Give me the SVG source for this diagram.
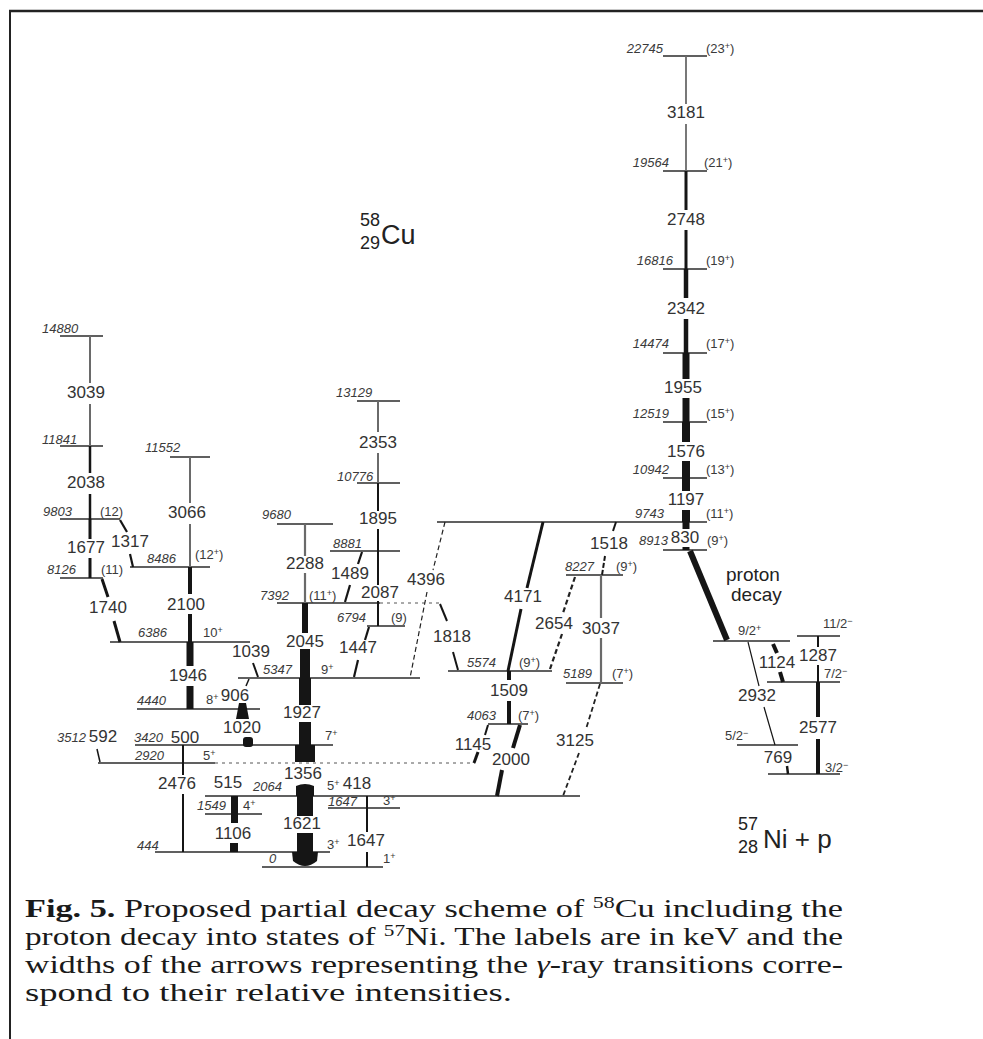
<svg xmlns="http://www.w3.org/2000/svg" width="983" height="1039" viewBox="0 0 983 1039">
<defs>
<style>
.lv{stroke:#2b2b2b;stroke-width:1.3;fill:none}
.lt{font-family:"Liberation Sans",Arial,sans-serif;font-style:italic;font-size:13px;fill:#3a3a3a}
.sl{font-family:"Liberation Sans",Arial,sans-serif;font-size:13px;fill:#3a3a3a}
.tl{font-family:"Liberation Sans",Arial,sans-serif;font-size:17px;fill:#333;text-anchor:middle}
.bk{stroke:#151515;fill:none;stroke-linecap:butt}
.gr{stroke:#6a6a6a;fill:none}
.ds{stroke:#222;fill:none;stroke-dasharray:5 3}
.dl{stroke:#555;fill:none;stroke-width:1;stroke-dasharray:3 4}
.fl{fill:#151515;stroke:none}
.cap{font-family:"Liberation Serif","Times New Roman",serif;font-size:25px;fill:#1a1a1a}
.big{font-family:"Liberation Sans",Arial,sans-serif;fill:#222}
</style>
</defs>
<rect width="983" height="1039" fill="#fff"/>
<g id="frame">
<line x1="9" y1="11" x2="983" y2="11" stroke="#222" stroke-width="2.5"/>
<line x1="10" y1="10" x2="10" y2="1039" stroke="#222" stroke-width="2"/>
</g>

<g id="titles">
<text class="big" x="360" y="226" font-size="18">58</text>
<text class="big" x="360" y="249" font-size="18">29</text>
<text class="big" x="381" y="244" font-size="27">Cu</text>
<text class="big" x="738" y="830" font-size="18">57</text>
<text class="big" x="738" y="853" font-size="18">28</text>
<text class="big" x="763" y="848" font-size="26">Ni + p</text>
<text class="big" x="726" y="581" font-size="19">proton</text>
<text class="big" x="731" y="601" font-size="19">decay</text>
</g>

<!-- levels -->
<g id="L22745"><line class="lv" x1="663" y1="56" x2="707" y2="56"/><text class="lt" x="663" y="53" text-anchor="end">22745</text><text class="sl" x="706" y="53">(23<tspan font-size="9" dy="-4">+</tspan><tspan dy="4">)</tspan></text></g>
<g id="L19564"><line class="lv" x1="663" y1="171" x2="707" y2="171"/><text class="lt" x="669" y="167" text-anchor="end">19564</text><text class="sl" x="704" y="167">(21<tspan font-size="9" dy="-4">+</tspan><tspan dy="4">)</tspan></text></g>
<g id="L16816"><line class="lv" x1="663" y1="269" x2="707" y2="269"/><text class="lt" x="673" y="265" text-anchor="end">16816</text><text class="sl" x="706" y="265">(19<tspan font-size="9" dy="-4">+</tspan><tspan dy="4">)</tspan></text></g>
<g id="L14474"><line class="lv" x1="663" y1="353" x2="707" y2="353"/><text class="lt" x="669" y="348" text-anchor="end">14474</text><text class="sl" x="706" y="348">(17<tspan font-size="9" dy="-4">+</tspan><tspan dy="4">)</tspan></text></g>
<g id="L12519"><line class="lv" x1="663" y1="422" x2="707" y2="422"/><text class="lt" x="669" y="418" text-anchor="end">12519</text><text class="sl" x="706" y="418">(15<tspan font-size="9" dy="-4">+</tspan><tspan dy="4">)</tspan></text></g>
<g id="L10942"><line class="lv" x1="663" y1="478" x2="707" y2="478"/><text class="lt" x="669" y="474" text-anchor="end">10942</text><text class="sl" x="706" y="474">(13<tspan font-size="9" dy="-4">+</tspan><tspan dy="4">)</tspan></text></g>
<g id="L9743"><line class="lv" x1="437" y1="522" x2="707" y2="522"/><text class="lt" x="664" y="518" text-anchor="end">9743</text><text class="sl" x="706" y="518">(11<tspan font-size="9" dy="-4">+</tspan><tspan dy="4">)</tspan></text></g>
<g id="L8913"><line class="lv" x1="663" y1="550" x2="707" y2="550"/><text class="lt" x="668" y="545" text-anchor="end">8913</text><text class="sl" x="707" y="545">(9<tspan font-size="9" dy="-4">+</tspan><tspan dy="4">)</tspan></text></g>

<g id="L14880"><line class="lv" x1="60" y1="336" x2="103" y2="336"/><text class="lt" x="42" y="333">14880</text></g>
<g id="L11841"><line class="lv" x1="60" y1="446" x2="103" y2="446"/><text class="lt" x="42" y="444">11841</text></g>
<g id="L9803"><line class="lv" x1="60" y1="519" x2="120" y2="519"/><text class="lt" x="43" y="516">9803</text><text class="sl" x="100" y="516">(12)</text></g>
<g id="L8126"><line class="lv" x1="60" y1="578" x2="103" y2="578"/><text class="lt" x="47" y="574">8126</text><text class="sl" x="101" y="574">(11)</text></g>
<g id="L11552"><line class="lv" x1="170" y1="457" x2="210" y2="457"/><text class="lt" x="145" y="452">11552</text></g>
<g id="L8486"><line class="lv" x1="130" y1="567" x2="210" y2="567"/><text class="lt" x="147" y="563">8486</text><text class="sl" x="195" y="559">(12<tspan font-size="9" dy="-4">+</tspan><tspan dy="4">)</tspan></text></g>
<g id="L6386"><line class="lv" x1="110" y1="642" x2="250" y2="642"/><text class="lt" x="138" y="637">6386</text><text class="sl" x="203" y="637">10<tspan font-size="9" dy="-4">+</tspan></text></g>
<g id="L4440"><line class="lv" x1="137" y1="709" x2="260" y2="709"/><text class="lt" x="137" y="705">4440</text><text class="sl" x="206" y="704">8<tspan font-size="9" dy="-4">+</tspan></text></g>
<g id="L3512"><text class="lt" x="57" y="742">3512</text></g>
<g id="L3420"><line class="lv" x1="135" y1="745" x2="333" y2="745"/><text class="lt" x="134" y="742">3420</text><text class="sl" x="325" y="740">7<tspan font-size="9" dy="-4">+</tspan></text></g>
<g id="L2920"><line class="lv" x1="98" y1="763" x2="215" y2="763"/><line class="dl" x1="215" y1="763" x2="475" y2="763"/><text class="lt" x="135" y="760">2920</text><text class="sl" x="203" y="760">5<tspan font-size="9" dy="-4">+</tspan></text></g>
<g id="L2064"><line class="lv" x1="205" y1="796" x2="580" y2="796"/><text class="lt" x="253" y="791">2064</text><text class="sl" x="327" y="790">5<tspan font-size="9" dy="-4">+</tspan></text></g>
<g id="L1647"><line class="lv" x1="328" y1="808" x2="400" y2="808"/><text class="lt" x="328" y="806">1647</text><text class="sl" x="383" y="805">3<tspan font-size="9" dy="-4">+</tspan></text></g>
<g id="L1549"><line class="lv" x1="205" y1="814" x2="262" y2="814"/><text class="lt" x="197" y="810">1549</text><text class="sl" x="243" y="810">4<tspan font-size="9" dy="-4">+</tspan></text></g>
<g id="L444"><line class="lv" x1="155" y1="852" x2="330" y2="852"/><text class="lt" x="137" y="850">444</text><text class="sl" x="327" y="849">3<tspan font-size="9" dy="-4">+</tspan></text></g>
<g id="L0"><line class="lv" x1="262" y1="867" x2="383" y2="867"/><text class="lt" x="269" y="863">0</text><text class="sl" x="383" y="863">1<tspan font-size="9" dy="-4">+</tspan></text></g>
<g id="L5347"><line class="lv" x1="238" y1="678" x2="420" y2="678"/><text class="lt" x="263" y="674">5347</text><text class="sl" x="321" y="674">9<tspan font-size="9" dy="-4">+</tspan></text></g>
<g id="L7392"><line class="lv" x1="277" y1="603" x2="380" y2="603"/><line class="dl" x1="380" y1="603" x2="442" y2="603"/><text class="lt" x="260" y="600">7392</text><text class="sl" x="309" y="600">(11<tspan font-size="9" dy="-4">+</tspan><tspan dy="4">)</tspan></text></g>
<g id="L9680"><line class="lv" x1="277" y1="524" x2="333" y2="524"/><text class="lt" x="262" y="519">9680</text></g>
<g id="L6794"><line class="lv" x1="367" y1="626" x2="405" y2="626"/><text class="lt" x="337" y="622">6794</text><text class="sl" x="391" y="622">(9)</text></g>
<g id="L8881"><line class="lv" x1="330" y1="551" x2="400" y2="551"/><text class="lt" x="333" y="548">8881</text></g>
<g id="L10776"><line class="lv" x1="357" y1="483" x2="400" y2="483"/><text class="lt" x="337" y="481">10776</text></g>
<g id="L13129"><line class="lv" x1="357" y1="401" x2="400" y2="401"/><text class="lt" x="336" y="397">13129</text></g>
<g id="L5574"><line class="lv" x1="448" y1="671" x2="552" y2="671"/><text class="lt" x="467" y="667">5574</text><text class="sl" x="519" y="667">(9<tspan font-size="9" dy="-4">+</tspan><tspan dy="4">)</tspan></text></g>
<g id="L4063"><line class="lv" x1="488" y1="724" x2="528" y2="724"/><text class="lt" x="467" y="720">4063</text><text class="sl" x="518" y="720">(7<tspan font-size="9" dy="-4">+</tspan><tspan dy="4">)</tspan></text></g>
<g id="L8227"><line class="lv" x1="566" y1="575" x2="623" y2="575"/><text class="lt" x="565" y="571">8227</text><text class="sl" x="616" y="571">(9<tspan font-size="9" dy="-4">+</tspan><tspan dy="4">)</tspan></text></g>
<g id="L5189"><line class="lv" x1="566" y1="683" x2="623" y2="683"/><text class="lt" x="563" y="678">5189</text><text class="sl" x="612" y="678">(7<tspan font-size="9" dy="-4">+</tspan><tspan dy="4">)</tspan></text></g>

<g id="Ni92"><line class="lv" x1="713" y1="641" x2="790" y2="641"/><text class="sl" x="738" y="635">9/2<tspan font-size="9" dy="-4">+</tspan></text></g>
<g id="Ni112"><line class="lv" x1="797" y1="636" x2="840" y2="636"/><text class="sl" x="823" y="628">11/2<tspan font-size="9" dy="-4">−</tspan></text></g>
<g id="Ni72"><line class="lv" x1="767" y1="682" x2="840" y2="682"/><text class="sl" x="824" y="678">7/2<tspan font-size="9" dy="-4">−</tspan></text></g>
<g id="Ni52"><line class="lv" x1="737" y1="745" x2="798" y2="745"/><text class="sl" x="725" y="740">5/2<tspan font-size="9" dy="-4">−</tspan></text></g>
<g id="Ni32"><line class="lv" x1="768" y1="774" x2="840" y2="774"/><text class="sl" x="825" y="772">3/2<tspan font-size="9" dy="-4">−</tspan></text></g>

<!-- transitions -->
<g id="connectors">
<line class="gr" x1="686" y1="56" x2="686" y2="104" stroke-width="1.8"/><line class="gr" x1="686" y1="124" x2="686" y2="171" stroke-width="1.8"/>
<line class="bk" x1="686" y1="171" x2="686" y2="210" stroke-width="3"/><line class="bk" x1="686" y1="230" x2="686" y2="269" stroke-width="3"/>
<line class="bk" x1="686" y1="269" x2="686" y2="298" stroke-width="4.5"/><line class="bk" x1="686" y1="319" x2="686" y2="353" stroke-width="4.5"/>
<line class="bk" x1="686" y1="353" x2="686" y2="379" stroke-width="7"/><line class="bk" x1="686" y1="398" x2="686" y2="422" stroke-width="7"/>
<line class="bk" x1="686" y1="422" x2="686" y2="442" stroke-width="8"/><line class="bk" x1="686" y1="461" x2="686" y2="478" stroke-width="8"/>
<line class="bk" x1="686" y1="478" x2="686" y2="491" stroke-width="8"/><line class="bk" x1="686" y1="510" x2="686" y2="522" stroke-width="8"/>
<line class="bk" x1="686" y1="522" x2="686" y2="529" stroke-width="7"/><line class="bk" x1="686" y1="547" x2="686" y2="550" stroke-width="7"/>
<line class="bk" x1="690" y1="551" x2="727" y2="640" stroke-width="6"/>
<line class="bk" x1="818" y1="636" x2="818" y2="647" stroke-width="2"/><line class="bk" x1="818" y1="665" x2="818" y2="682" stroke-width="2"/>
<line class="bk" x1="818" y1="682" x2="818" y2="717" stroke-width="4"/><line class="bk" x1="818" y1="739" x2="818" y2="774" stroke-width="4"/>
<line class="bk" x1="773" y1="644" x2="777" y2="653" stroke-width="4"/><line class="bk" x1="780" y1="672" x2="783" y2="682" stroke-width="4"/>
<line class="bk" x1="748" y1="642" x2="759" y2="686" stroke-width="1.2"/><line class="bk" x1="764" y1="707" x2="775" y2="745" stroke-width="1.2"/>
<line class="bk" x1="787" y1="766" x2="788" y2="774" stroke-width="2.5"/>
<line class="gr" x1="90" y1="336" x2="90" y2="383" stroke-width="2"/><line class="gr" x1="90" y1="404" x2="90" y2="446" stroke-width="2"/>
<line class="bk" x1="90" y1="446" x2="90" y2="473" stroke-width="2.5"/><line class="bk" x1="90" y1="494" x2="90" y2="519" stroke-width="2.5"/>
<line class="bk" x1="90" y1="519" x2="90" y2="539" stroke-width="3"/><line class="bk" x1="90" y1="558" x2="90" y2="578" stroke-width="3"/>
<line class="bk" x1="120" y1="520" x2="127" y2="532" stroke-width="2.2"/><line class="bk" x1="130" y1="554" x2="133" y2="567" stroke-width="2.2"/>
<line class="bk" x1="102" y1="579" x2="108" y2="597" stroke-width="3"/><line class="bk" x1="114" y1="621" x2="120" y2="642" stroke-width="3"/>
<line class="gr" x1="190" y1="457" x2="190" y2="503" stroke-width="2"/><line class="gr" x1="190" y1="524" x2="190" y2="567" stroke-width="2"/>
<line class="bk" x1="190" y1="567" x2="190" y2="594" stroke-width="4"/><line class="bk" x1="190" y1="614" x2="190" y2="642" stroke-width="4"/>
<line class="bk" x1="190" y1="642" x2="190" y2="666" stroke-width="7"/><line class="bk" x1="190" y1="686" x2="190" y2="709" stroke-width="7"/>
<line class="bk" x1="253" y1="663" x2="258" y2="677" stroke-width="2"/>
<line class="bk" x1="249" y1="679" x2="246" y2="686" stroke-width="1.5"/>
<path class="fl" d="M239,703 L246,703 L249,719 L236,719 Z"/>
<rect class="fl" x="243" y="737" width="10" height="10" rx="3"/>
<line class="bk" x1="97" y1="749" x2="100" y2="762" stroke-width="1.5"/>
<line class="bk" x1="183" y1="745" x2="183" y2="763" stroke-width="2"/>
<line class="bk" x1="183" y1="763" x2="183" y2="775" stroke-width="2"/><line class="bk" x1="183" y1="794" x2="183" y2="852" stroke-width="2"/>
<rect class="fl" x="231" y="796" width="7" height="27"/>
<rect class="fl" x="230" y="843" width="8" height="9"/>
<line class="gr" x1="305" y1="524" x2="305" y2="556" stroke-width="2.2"/><line class="gr" x1="305" y1="573" x2="305" y2="603" stroke-width="2.2"/>
<rect class="fl" x="302" y="603" width="6" height="30"/><rect class="fl" x="300" y="649" width="10" height="29"/>
<rect class="fl" x="299" y="678" width="12" height="27"/><rect class="fl" x="299" y="722" width="12" height="23"/>
<rect class="fl" x="295" y="745" width="20" height="17"/><path class="fl" d="M296,786 Q305,782 314,786 L314,796 L296,796 Z"/>
<rect class="fl" x="297" y="796" width="16" height="20"/><path class="fl" d="M297,833 L313,833 L313,852 L297,852 Z"/>
<path class="fl" d="M292,852 L318,852 L317,861 Q305,871 293,861 Z"/>
<line class="bk" x1="367" y1="796" x2="367" y2="808" stroke-width="2"/>
<line class="bk" x1="367" y1="808" x2="367" y2="832" stroke-width="2"/><line class="bk" x1="367" y1="852" x2="367" y2="867" stroke-width="2"/>
<line class="gr" x1="378" y1="401" x2="378" y2="432" stroke-width="2"/><line class="gr" x1="378" y1="453" x2="378" y2="483" stroke-width="2"/>
<line class="bk" x1="378" y1="483" x2="378" y2="511" stroke-width="2"/><line class="bk" x1="378" y1="529" x2="378" y2="551" stroke-width="2"/>
<line class="bk" x1="378" y1="551" x2="378" y2="585" stroke-width="2"/><line class="bk" x1="378" y1="601" x2="378" y2="626" stroke-width="2"/>
<line class="bk" x1="362" y1="552" x2="358" y2="564" stroke-width="2.2"/><line class="bk" x1="350" y1="585" x2="345" y2="602" stroke-width="2.2"/>
<line class="bk" x1="369" y1="627" x2="365" y2="640" stroke-width="2.2"/><line class="bk" x1="358" y1="660" x2="354" y2="677" stroke-width="2.2"/>
<line class="ds" x1="445" y1="522" x2="433" y2="570" stroke-width="1.2" stroke-dasharray="4 3"/><line class="ds" x1="427" y1="592" x2="410" y2="678" stroke-width="1.2" stroke-dasharray="4 3"/>
<line class="bk" x1="440" y1="604" x2="447" y2="621" stroke-width="2"/><line class="bk" x1="453" y1="652" x2="458" y2="670" stroke-width="2"/>
<line class="bk" x1="543" y1="522" x2="527" y2="588" stroke-width="3"/><line class="bk" x1="521" y1="609" x2="508" y2="671" stroke-width="3"/>
<line class="bk" x1="509" y1="671" x2="509" y2="680" stroke-width="4"/><line class="bk" x1="509" y1="701" x2="509" y2="724" stroke-width="4"/>
<line class="bk" x1="520" y1="725" x2="513" y2="748" stroke-width="4"/><line class="bk" x1="502" y1="770" x2="497" y2="796" stroke-width="4"/>
<line class="bk" x1="488" y1="725" x2="485" y2="735" stroke-width="2"/><line class="bk" x1="478" y1="752" x2="474" y2="763" stroke-width="3"/>
<line class="bk" x1="616" y1="522" x2="613" y2="531" stroke-width="2"/><line class="bk" x1="605" y1="556" x2="602" y2="575" stroke-width="2" stroke-dasharray="5 2"/>
<line class="ds" x1="575" y1="577" x2="563" y2="613" stroke-width="2.2" stroke-dasharray="6 2.5"/><line class="ds" x1="562" y1="634" x2="550" y2="669" stroke-width="2.2" stroke-dasharray="6 2.5"/>
<line class="gr" x1="601" y1="575" x2="601" y2="618" stroke-width="2.2"/><line class="gr" x1="601" y1="638" x2="601" y2="683" stroke-width="2.2"/>
<line class="ds" x1="600" y1="684" x2="586" y2="729" stroke-width="1.8" stroke-dasharray="5 2.5"/><line class="ds" x1="579" y1="753" x2="563" y2="796" stroke-width="1.8" stroke-dasharray="5 2.5"/>
</g>

<g id="tlabels">
<text class="tl" x="686" y="118">3181</text>
<text class="tl" x="686" y="225">2748</text>
<text class="tl" x="686" y="314">2342</text>
<text class="tl" x="683" y="393">1955</text>
<text class="tl" x="686" y="457">1576</text>
<text class="tl" x="686" y="505">1197</text>
<text class="tl" x="685" y="543">830</text>
<text class="tl" x="818" y="661">1287</text>
<text class="tl" x="777" y="668">1124</text>
<text class="tl" x="757" y="701">2932</text>
<text class="tl" x="818" y="733">2577</text>
<text class="tl" x="778" y="763">769</text>
<text class="tl" x="86" y="398">3039</text>
<text class="tl" x="86" y="488">2038</text>
<text class="tl" x="86" y="553">1677</text>
<text class="tl" x="130" y="547">1317</text>
<text class="tl" x="108" y="613">1740</text>
<text class="tl" x="187" y="518">3066</text>
<text class="tl" x="186" y="610">2100</text>
<text class="tl" x="188" y="681">1946</text>
<text class="tl" x="251" y="657">1039</text>
<text class="tl" x="235" y="701">906</text>
<text class="tl" x="242" y="733">1020</text>
<text class="tl" x="103" y="742">592</text>
<text class="tl" x="185" y="743">500</text>
<text class="tl" x="177" y="789">2476</text>
<text class="tl" x="228" y="788">515</text>
<text class="tl" x="233" y="839">1106</text>
<text class="tl" x="305" y="569">2288</text>
<text class="tl" x="305" y="647">2045</text>
<text class="tl" x="302" y="718">1927</text>
<text class="tl" x="303" y="779">1356</text>
<text class="tl" x="302" y="829">1621</text>
<text class="tl" x="357" y="789">418</text>
<text class="tl" x="366" y="846">1647</text>
<text class="tl" x="378" y="448">2353</text>
<text class="tl" x="378" y="524">1895</text>
<text class="tl" x="350" y="579">1489</text>
<text class="tl" x="380" y="598">2087</text>
<text class="tl" x="358" y="653">1447</text>
<text class="tl" x="426" y="585">4396</text>
<text class="tl" x="452" y="642">1818</text>
<text class="tl" x="523" y="602">4171</text>
<text class="tl" x="554" y="629">2654</text>
<text class="tl" x="609" y="549">1518</text>
<text class="tl" x="601" y="634">3037</text>
<text class="tl" x="509" y="696">1509</text>
<text class="tl" x="473" y="750">1145</text>
<text class="tl" x="511" y="765">2000</text>
<text class="tl" x="575" y="746">3125</text>
</g>

<g id="caption">
<text class="cap" x="25" y="917" textLength="818" lengthAdjust="spacingAndGlyphs"><tspan font-weight="bold">Fig. 5.</tspan> Proposed partial decay scheme of <tspan font-size="16" dy="-9">58</tspan><tspan dy="9">Cu including the</tspan></text>
<text class="cap" x="25" y="945" textLength="818" lengthAdjust="spacingAndGlyphs">proton decay into states of <tspan font-size="16" dy="-9">57</tspan><tspan dy="9">Ni. The labels are in keV and the</tspan></text>
<text class="cap" x="25" y="973" textLength="818" lengthAdjust="spacingAndGlyphs">widths of the arrows representing the <tspan font-style="italic">γ</tspan>-ray transitions corre-</text>
<text class="cap" x="25" y="1001" textLength="487" lengthAdjust="spacingAndGlyphs">spond to their relative intensities.</text>
</g>
</svg>
